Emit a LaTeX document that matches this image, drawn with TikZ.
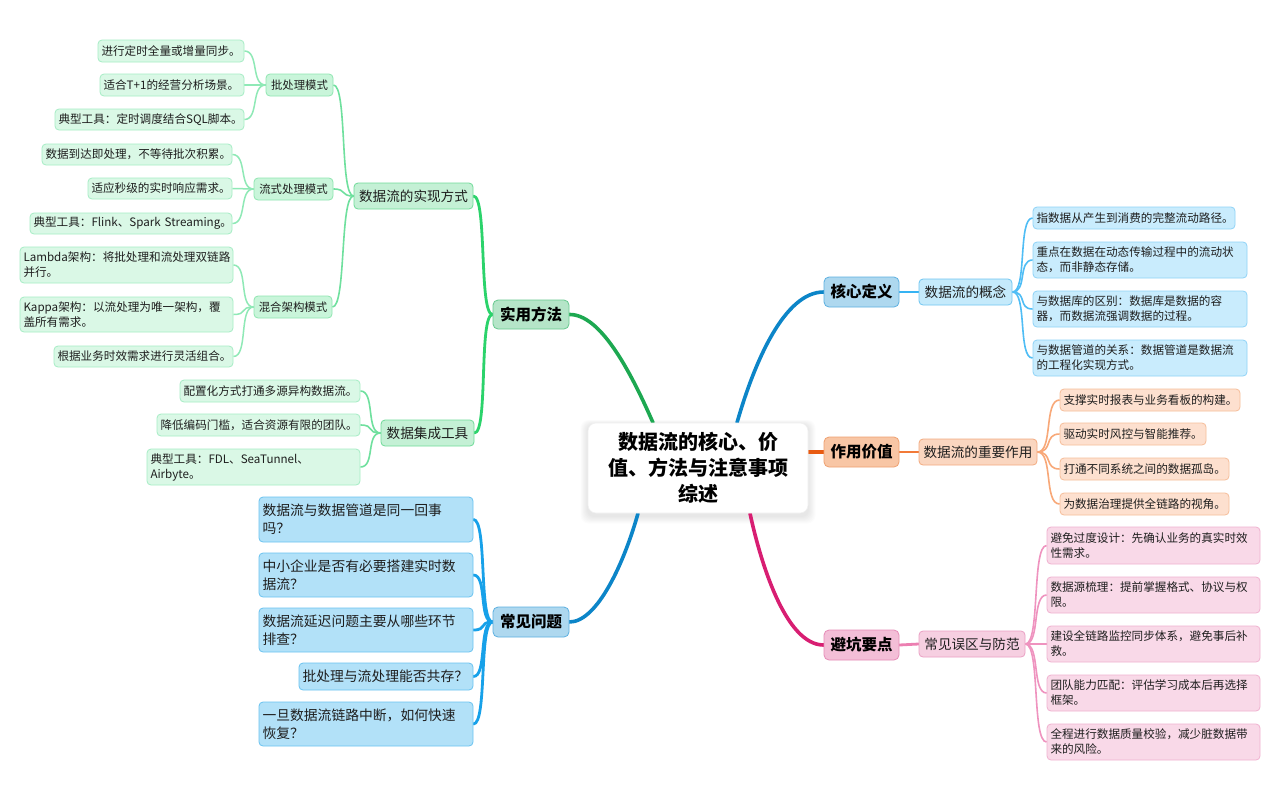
\documentclass[tikz,border=0pt]{standalone}
\usepackage{fontspec}
\setmainfont{Noto Sans CJK SC}
\usetikzlibrary{calc,backgrounds}

\definecolor{txt}{HTML}{1E1E1E}
\definecolor{gLineA}{HTML}{1DA851}
\definecolor{gMf}{HTML}{B5E5C8}\definecolor{gMd}{HTML}{66C98E}
\definecolor{gLineB}{HTML}{2BD36B}
\definecolor{gSf}{HTML}{C4F0D5}\definecolor{gSd}{HTML}{6FDB99}
\definecolor{gLineC}{HTML}{6FE09E}
\definecolor{gTf}{HTML}{C9F5DA}\definecolor{gTd}{HTML}{8FE6B1}
\definecolor{gLineD}{HTML}{8FE9B6}
\definecolor{gLf}{HTML}{DAF8E6}\definecolor{gLd}{HTML}{A6EDC5}
\definecolor{bLineA}{HTML}{0C85C8}
\definecolor{bMf}{HTML}{AED8EF}\definecolor{bMd}{HTML}{5DB0E0}
\definecolor{bLineB}{HTML}{35B3F3}
\definecolor{bSf}{HTML}{C5EAFB}\definecolor{bSd}{HTML}{70C6F1}
\definecolor{bLineC}{HTML}{4FBDF5}
\definecolor{bLf}{HTML}{C9ECFD}\definecolor{bLd}{HTML}{8FD3F7}
\definecolor{oLineA}{HTML}{E85B12}
\definecolor{oMf}{HTML}{F8C6A5}\definecolor{oMd}{HTML}{EEA070}
\definecolor{oLineB}{HTML}{F27A38}
\definecolor{oSf}{HTML}{FAD6C0}\definecolor{oSd}{HTML}{F3AB80}
\definecolor{oLineC}{HTML}{F8A878}
\definecolor{oLf}{HTML}{FDE0CF}\definecolor{oLd}{HTML}{F6BE9A}
\definecolor{pLineA}{HTML}{D81E72}
\definecolor{pMf}{HTML}{F3BED7}\definecolor{pMd}{HTML}{E68BB7}
\definecolor{pLineB}{HTML}{EC7FB1}
\definecolor{pSf}{HTML}{F6CFE1}\definecolor{pSd}{HTML}{EBA0C4}
\definecolor{pLineC}{HTML}{EF93BF}
\definecolor{pLf}{HTML}{F9D9E8}\definecolor{pLd}{HTML}{F0B2D0}
\definecolor{qLine}{HTML}{17A1E9}
\definecolor{qLf}{HTML}{B2E1F8}\definecolor{qLd}{HTML}{6BC3F0}

\tikzset{
  bx/.style={rectangle, rounded corners=4pt, line width=0.8pt, inner xsep=3.5pt, inner ysep=0pt, align=left, text=txt},
  mainbox/.style={bx, rounded corners=5pt, align=center, font=\fontsize{15.5}{18}\selectfont\bfseries, text=black},
  subbox/.style={bx, align=center, font=\fontsize{13.6}{16}\selectfont},
  tsub/.style={bx, align=center, font=\fontsize{11.4}{14}\selectfont},
  leaf/.style={bx, font=\fontsize{11.6}{15}\selectfont},
  qbox/.style={bx, font=\fontsize{13.8}{18}\selectfont},
  centre/.style={rectangle, rounded corners=8pt, fill=white, draw=black!6, line width=0.6pt, align=center, inner xsep=3.5pt, inner ysep=0pt, font=\fontsize{20}{26}\selectfont\bfseries, text=black},
  gM/.style={fill=gMf, draw=gMd}, gS/.style={fill=gSf, draw=gSd}, gT/.style={fill=gTf, draw=gTd}, gL/.style={fill=gLf, draw=gLd},
  bM/.style={fill=bMf, draw=bMd}, bS/.style={fill=bSf, draw=bSd}, bL/.style={fill=bLf, draw=bLd},
  oM/.style={fill=oMf, draw=oMd}, oS/.style={fill=oSf, draw=oSd}, oL/.style={fill=oLf, draw=oLd},
  pM/.style={fill=pMf, draw=pMd}, pS/.style={fill=pSf, draw=pSd}, pL/.style={fill=pLf, draw=pLd},
  qL/.style={fill=qLf, draw=qLd},
  wA/.style={line width=3.6pt, line cap=round},
  wB/.style={line width=2.8pt, line cap=round},
  wC/.style={line width=1.6pt},
  wD/.style={line width=1.5pt},
}

% \nodebox{style}{name}{x1}{y1}{x2}{y2}{text}
\newcommand\nodebox[7]{%
  \pgfmathsetmacro\bxw{#5-#3}\pgfmathsetmacro\bxh{#6-#4}%
  \pgfmathsetmacro\bxcx{(#3+#5)/2}\pgfmathsetmacro\bxcy{(#4+#6)/2}%
  \pgfmathsetmacro\bxtw{#5-#3-7}%
  \node[#1, minimum width=\bxw pt, minimum height=\bxh pt, text width=\bxtw pt] (#2) at (\bxcx,\bxcy) {#7};}

\begin{document}
\begin{tikzpicture}[x=1pt, y=-1pt]
\begin{scope}[on background layer]
  \fill[white] (0,0) rectangle (1280,801);
\end{scope}
\useasboundingbox (0,0) rectangle (1280,801);

% centre
\nodebox{centre}{c}{588}{423}{808}{513}{数据流的核心、价\\值、方法与注意事项\\综述}

% core definition (right, blue)
\nodebox{mainbox,bM}{K}{824}{277}{899}{307}{核心定义}
\nodebox{subbox,bS}{K1}{919}{279}{1012}{305}{数据流的概念}
\nodebox{leaf,bL}{Ka}{1033}{207}{1235}{229}{指数据从产生到消费的完整流动路径。}
\nodebox{leaf,bL}{Kb}{1033}{242}{1247}{278}{重点在数据在动态传输过程中的流动状\\态，而非静态存储。}
\nodebox{leaf,bL}{Kc}{1033}{291}{1247}{327}{与数据库的区别：数据库是数据的容\\器，而数据流强调数据的过程。}
\nodebox{leaf,bL}{Kd}{1033}{340}{1247}{376}{与数据管道的关系：数据管道是数据流\\的工程化实现方式。}

% value (right, orange)
\nodebox{mainbox,oM}{V}{824}{437}{899}{467}{作用价值}
\nodebox{subbox,oS}{V1}{919}{439}{1037}{465}{数据流的重要作用}
\nodebox{leaf,oL}{Va}{1060}{389}{1240}{411}{支撑实时报表与业务看板的构建。}
\nodebox{leaf,oL}{Vb}{1060}{423}{1206}{445}{驱动实时风控与智能推荐。}
\nodebox{leaf,oL}{Vc}{1060}{458}{1229}{480}{打通不同系统之间的数据孤岛。}
\nodebox{leaf,oL}{Vd}{1060}{493}{1229}{515}{为数据治理提供全链路的视角。}

% pitfalls (right, pink)
\nodebox{mainbox,pM}{P}{824}{630}{899}{660}{避坑要点}
\nodebox{subbox,pS}{P1}{919}{631}{1025}{657}{常见误区与防范}
\nodebox{leaf,pL}{Pa}{1047}{527}{1260}{564}{避免过度设计：先确认业务的真实时效\\性需求。}
\nodebox{leaf,pL}{Pb}{1047}{577}{1260}{613}{数据源梳理：提前掌握格式、协议与权\\限。}
\nodebox{leaf,pL}{Pc}{1047}{626}{1260}{662}{建设全链路监控同步体系，避免事后补\\救。}
\nodebox{leaf,pL}{Pd}{1047}{675}{1260}{711}{团队能力匹配：评估学习成本后再选择\\框架。}
\nodebox{leaf,pL}{Pe}{1047}{724}{1260}{760}{全程进行数据质量校验，减少脏数据带\\来的风险。}

% practical methods (left, green)
\nodebox{mainbox,gM}{M}{493}{300}{569}{329}{实用方法}
\nodebox{subbox,gS}{M1}{354}{183}{473}{209}{数据流的实现方式}
\nodebox{tsub,gT}{Ma}{266}{74}{333}{96}{批处理模式}
\nodebox{leaf,gL}{Ma1}{98}{40}{244}{62}{进行定时全量或增量同步。}
\nodebox{leaf,gL}{Ma2}{100}{74}{244}{96}{适合T+1的经营分析场景。}
\nodebox{leaf,gL}{Ma3}{55}{109}{244}{130}{\mbox{典型工具：定时调度结合SQL脚本。}}
\nodebox{tsub,gT}{Mb}{254}{178}{333}{200}{流式处理模式}
\nodebox{leaf,gL}{Mb1}{42}{144}{232}{165}{数据到达即处理，不等待批次积累。}
\nodebox{leaf,gL}{Mb2}{88}{178}{232}{199}{适应秒级的实时响应需求。}
\nodebox{leaf,gL}{Mb3}{30}{213}{232}{234}{\mbox{典型工具：Flink、Spark Streaming。}}
\nodebox{tsub,gT}{Mc}{254}{296}{332}{318}{混合架构模式}
\nodebox{leaf,gL}{Mc1}{20}{247}{233}{283}{Lambda架构：将批处理和流处理双链路\\并行。}
\nodebox{leaf,gL}{Mc2}{20}{297}{233}{332}{Kappa架构：以流处理为唯一架构，覆\\盖所有需求。}
\nodebox{leaf,gL}{Mc3}{54}{346}{233}{367}{根据业务时效需求进行灵活组合。}
\nodebox{subbox,gS}{M2}{381}{420}{474}{446}{数据集成工具}
\nodebox{leaf,gL}{M21}{180}{380}{360}{402}{配置化方式打通多源异构数据流。}
\nodebox{leaf,gL}{M22}{157}{414}{360}{436}{降低编码门槛，适合资源有限的团队。}
\nodebox{leaf,gL}{M23}{147}{449}{360}{485}{典型工具：FDL、SeaTunnel、\\Airbyte。}

% questions (left, blue)
\nodebox{mainbox,bM}{Q}{493}{607}{569}{637}{常见问题}
\nodebox{qbox,qL}{Q1}{259}{497}{473}{542}{数据流与数据管道是同一回事\\吗？}
\nodebox{qbox,qL}{Q2}{259}{553}{473}{597}{中小企业是否有必要搭建实时数\\据流？}
\nodebox{qbox,qL}{Q3}{259}{608}{473}{652}{数据流延迟问题主要从哪些环节\\排查？}
\nodebox{qbox,qL}{Q4}{299}{663}{473}{690}{批处理与流处理能否共存？}
\nodebox{qbox,qL}{Q5}{259}{702}{473}{746}{一旦数据流链路中断，如何快速\\恢复？}

\begin{scope}[on background layer]
  % soft shadow of the centre
  \foreach \i in {1,...,8}
    \fill[black, opacity=0.012, rounded corners=8pt]
      ($(c.north west)+(-\i*0.9,-\i*0.6+2)$) rectangle ($(c.south east)+(\i*0.9,\i*0.9+3)$);

  % main branches
  \draw[wA, bLineA] ($(c.north)+(39,0)$) .. controls (755,360) and (785,292) .. (K.west);
  \draw[wA, oLineA] (c.east |- V.west) -- (V.west);
  \draw[wA, pLineA] ($(c.south)+(52,0)$) .. controls (760,560) and (785,645) .. (P.west);
  \draw[wA, gLineA] ($(c.north)+(-45,0)$) .. controls (630,370) and (600,314) .. (M.east);
  \draw[wA, bLineA] ($(c.south)+(-60,0)$) .. controls (625,560) and (598,622) .. (Q.east);

  % second level
  \draw[wB, bLineB] (K.east) -- (K1.west);
  \draw[wB, oLineB] (V.east) -- (V1.west);
  \draw[wB, pLineB] (P.east) -- (P1.west);
  \foreach \n in {M1,M2}
    \draw[wB, gLineB] (M.west) .. controls +(-14,0) and +(14,0) .. (\n.east);
  \foreach \n in {Q1,Q2,Q3,Q4,Q5}
    \draw[wB, qLine] (Q.west) .. controls +(-14,0) and +(14,0) .. (\n.east);

  % third level and leaves
  \foreach \n in {Ma,Mb,Mc}
    \draw[wC, gLineC] (M1.west) .. controls +(-14,0) and +(14,0) .. (\n.east);
  \foreach \n in {Ma1,Ma2,Ma3}
    \draw[wD, gLineD] (Ma.west) .. controls +(-15,0) and +(15,0) .. (\n.east);
  \foreach \n in {Mb1,Mb2,Mb3}
    \draw[wD, gLineD] (Mb.west) .. controls +(-15,0) and +(15,0) .. (\n.east);
  \foreach \n in {Mc1,Mc2,Mc3}
    \draw[wD, gLineD] (Mc.west) .. controls +(-15,0) and +(15,0) .. (\n.east);
  \foreach \n in {M21,M22,M23}
    \draw[wC, gLineC] (M2.west) .. controls +(-15,0) and +(15,0) .. (\n.east);
  \foreach \n in {Ka,Kb,Kc,Kd}
    \draw[wC, bLineC] (K1.east) .. controls +(15,0) and +(-15,0) .. (\n.west);
  \foreach \n in {Va,Vb,Vc,Vd}
    \draw[wC, oLineC] (V1.east) .. controls +(16,0) and +(-16,0) .. (\n.west);
  \foreach \n in {Pa,Pb,Pc,Pd,Pe}
    \draw[wC, pLineC] (P1.east) .. controls +(15,0) and +(-15,0) .. (\n.west);
\end{scope}
\end{tikzpicture}
\end{document}
